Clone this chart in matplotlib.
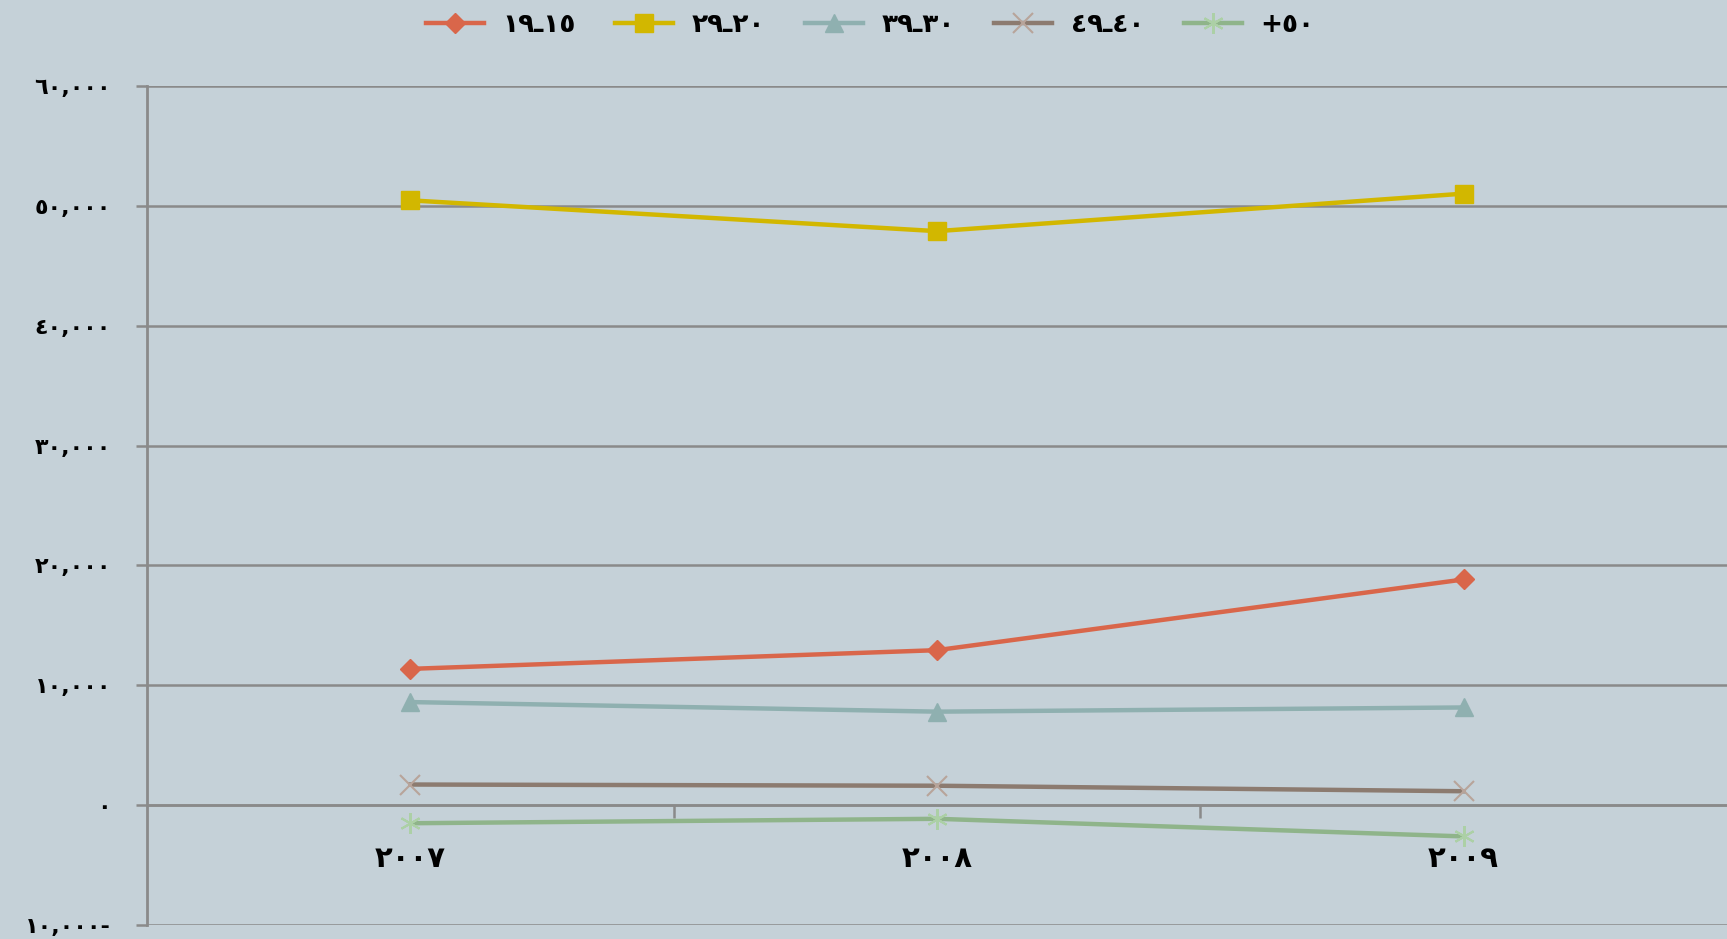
import numpy as np
import matplotlib
matplotlib.use('Agg')
import matplotlib.pyplot as plt
from matplotlib.ticker import FixedLocator

# categories (years) and series values
years = ['٢٠٠٧', '٢٠٠٨', '٢٠٠٩']
age_15_19 = [11370, 12930, 18830]
age_20_29 = [50460, 47890, 51020]
age_30_39 = [8600, 7800, 8150]
age_40_49 = [1720, 1620, 1160]
age_50_up = [-1510, -1140, -2610]
labels = ['١٩ـ١٥', '٢٩ـ٢٠', '٣٩ـ٣٠', '٤٩ـ٤٠', '+٥٠']
ytick_vals = [-10000, 0, 10000, 20000, 30000, 40000, 50000, 60000]
ytick_labels = ['١٠,٠٠٠-', '٠', '١٠,٠٠٠', '٢٠,٠٠٠', '٣٠,٠٠٠', '٤٠,٠٠٠', '٥٠,٠٠٠', '٦٠,٠٠٠']

bg = '#c5d1d8'
grid_c = '#8a8a8a'

fig = plt.figure(figsize=(17.27, 9.39), dpi=100, facecolor=bg)
ax = fig.add_axes([147/1727, 14/939, 1580/1727, 839/939])
ax.set_facecolor(bg)

x = np.arange(len(years))
# (values, line colour, marker, marker face, marker edge, size)
styles = [
    (age_15_19, '#d9664a', 'D', '#d9664a', '#d9664a', 10),
    (age_20_29, '#d2b700', 's', '#d2b700', '#d2b700', 13),
    (age_30_39, '#8fb0b0', '^', '#8fb0b0', '#8fb0b0', 13),
    (age_40_49, '#8c7b70', 'x', 'none', '#b8a49a', 15),
    (age_50_up, '#8fb48a', (6, 2, 0), 'none', '#acd0a6', 15),
]
for (vals, col, mk, mfc, mec, ms), lab in zip(styles, labels):
    ax.plot(x, vals, color=col, lw=3.2, marker=mk, markersize=ms,
            markerfacecolor=mfc, markeredgecolor=mec, markeredgewidth=1.5 if mfc == 'none' else 1,
            label=lab, zorder=3)

ax.set_xlim(-0.5, 2.5)
ax.set_ylim(-10000, 60000)
ax.set_yticks(ytick_vals)
ax.set_yticklabels(ytick_labels, fontsize=16, fontweight='bold')
ax.yaxis.grid(True, color=grid_c, lw=1.8, zorder=1)
ax.tick_params(axis='y', length=8, width=1.8, color=grid_c, pad=18)

for s in ['top', 'right']:
    ax.spines[s].set_visible(False)
ax.spines['left'].set_color(grid_c)
ax.spines['left'].set_linewidth(2)
ax.spines['bottom'].set_position(('data', 0))
ax.spines['bottom'].set_color(grid_c)
ax.spines['bottom'].set_linewidth(1.8)

ax.set_xticks(x)
ax.set_xticklabels(years, fontsize=21, fontweight='bold')
ax.xaxis.set_minor_locator(FixedLocator([0.5, 1.5]))
ax.tick_params(axis='x', which='major', length=0, pad=29)
ax.tick_params(axis='x', which='minor', length=9, width=1.8, color=grid_c)

leg = fig.legend(loc='upper center', bbox_to_anchor=(870/1727, 1.012), ncol=5, frameon=False,
                 prop={'size': 19, 'weight': 'bold'}, handlelength=2.2, columnspacing=1.5,
                 handletextpad=0.7)

fig.savefig('out.png', dpi=100, facecolor=bg)
